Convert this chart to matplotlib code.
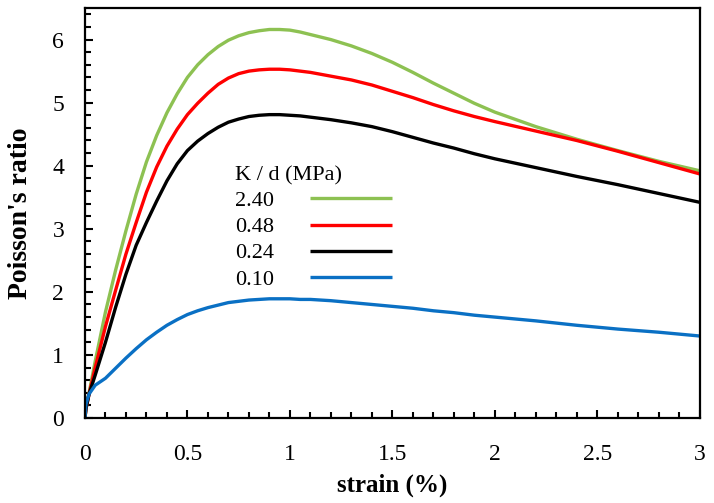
import matplotlib
matplotlib.use("Agg")
import matplotlib.pyplot as plt
from matplotlib.ticker import MultipleLocator

plt.rcParams["font.family"] = ["Liberation Serif", "DejaVu Serif"]

# strain (%) sample points
strain = [0, 0.005, 0.02, 0.05, 0.1, 0.15, 0.2, 0.25, 0.3, 0.35, 0.4, 0.45,
          0.5, 0.55, 0.6, 0.65, 0.7, 0.75, 0.8, 0.85, 0.9, 0.95, 1.0, 1.05,
          1.1, 1.2, 1.3, 1.4, 1.5, 1.6, 1.7, 1.8, 1.9, 2.0, 2.2, 2.4, 2.6,
          2.8, 3.0]

# Poisson's ratio for each K/d
nu_240 = [0, 0.15, 0.40, 0.90, 1.68, 2.35, 2.97, 3.55, 4.06, 4.48, 4.84, 5.14,
          5.40, 5.60, 5.76, 5.89, 5.99, 6.06, 6.11, 6.14, 6.16, 6.16, 6.15, 6.12,
          6.08, 6.00, 5.90, 5.78, 5.64, 5.48, 5.31, 5.15, 4.99, 4.85, 4.62, 4.42,
          4.24, 4.07, 3.92]
nu_048 = [0, 0.15, 0.38, 0.80, 1.45, 2.03, 2.60, 3.10, 3.58, 3.98, 4.31, 4.58,
          4.81, 4.99, 5.15, 5.29, 5.39, 5.46, 5.50, 5.52, 5.53, 5.53, 5.52, 5.50,
          5.48, 5.42, 5.36, 5.28, 5.18, 5.08, 4.97, 4.87, 4.78, 4.70, 4.55, 4.40,
          4.23, 4.05, 3.87]
nu_024 = [0, 0.15, 0.38, 0.68, 1.20, 1.76, 2.28, 2.74, 3.10, 3.44, 3.76, 4.03,
          4.24, 4.39, 4.51, 4.61, 4.69, 4.74, 4.78, 4.80, 4.81, 4.81, 4.80, 4.79,
          4.77, 4.73, 4.68, 4.62, 4.54, 4.45, 4.36, 4.28, 4.19, 4.11, 3.97, 3.83,
          3.70, 3.56, 3.42]
nu_010 = [0, 0.22, 0.38, 0.52, 0.63, 0.79, 0.95, 1.10, 1.24, 1.36, 1.47, 1.56,
          1.64, 1.70, 1.75, 1.79, 1.83, 1.85, 1.87, 1.88, 1.89, 1.89, 1.89, 1.88,
          1.88, 1.86, 1.83, 1.80, 1.77, 1.74, 1.70, 1.67, 1.63, 1.60, 1.54, 1.47,
          1.41, 1.36, 1.30]

labels = ["2.40", "0.48", "0.24", "0.10"]
colors = ["#8DC152", "#FF0000", "#000000", "#0A70C4"]

fig = plt.figure(figsize=(7.14, 5.03), dpi=100)
ax = fig.add_axes([0.119, 0.169, 0.861, 0.815])

for ys, lab, c in zip([nu_240, nu_048, nu_024, nu_010], labels, colors):
    ax.plot(strain, ys, color=c, lw=2.4, label=lab, solid_capstyle="butt",
            solid_joinstyle="round")

ax.set_xlim(0, 3)
ax.set_ylim(0, 6.5)
ax.xaxis.set_major_locator(MultipleLocator(0.5))
ax.xaxis.set_minor_locator(MultipleLocator(0.1))
ax.yaxis.set_major_locator(MultipleLocator(1))
ax.yaxis.set_minor_locator(MultipleLocator(0.2))
ax.set_xticklabels([f"{v:g}" for v in ax.get_xticks()])

ax.tick_params(which="both", direction="in", width=1.5, labelsize=17,
               top=False, right=False)
ax.tick_params(which="major", length=6)
ax.tick_params(which="minor", length=4)
ax.tick_params(axis="y", pad=15)
ax.tick_params(axis="x", pad=19)
for sp in ax.spines.values():
    sp.set_linewidth(1.6)

ax.set_xlabel("strain (%)", fontsize=18, fontweight="bold", labelpad=6)
ax.set_ylabel("Poisson's ratio", fontsize=20, fontweight="bold", labelpad=14)

leg = ax.legend(title="K / d (MPa)", loc="upper left", bbox_to_anchor=(0.244, 0.615),
                frameon=False, fontsize=16, title_fontsize=16, markerfirst=False,
                handlelength=3.7, handletextpad=1.6, labelspacing=0.25,
                borderpad=0, borderaxespad=0, alignment="left")

fig.savefig("out.png", dpi=100)
